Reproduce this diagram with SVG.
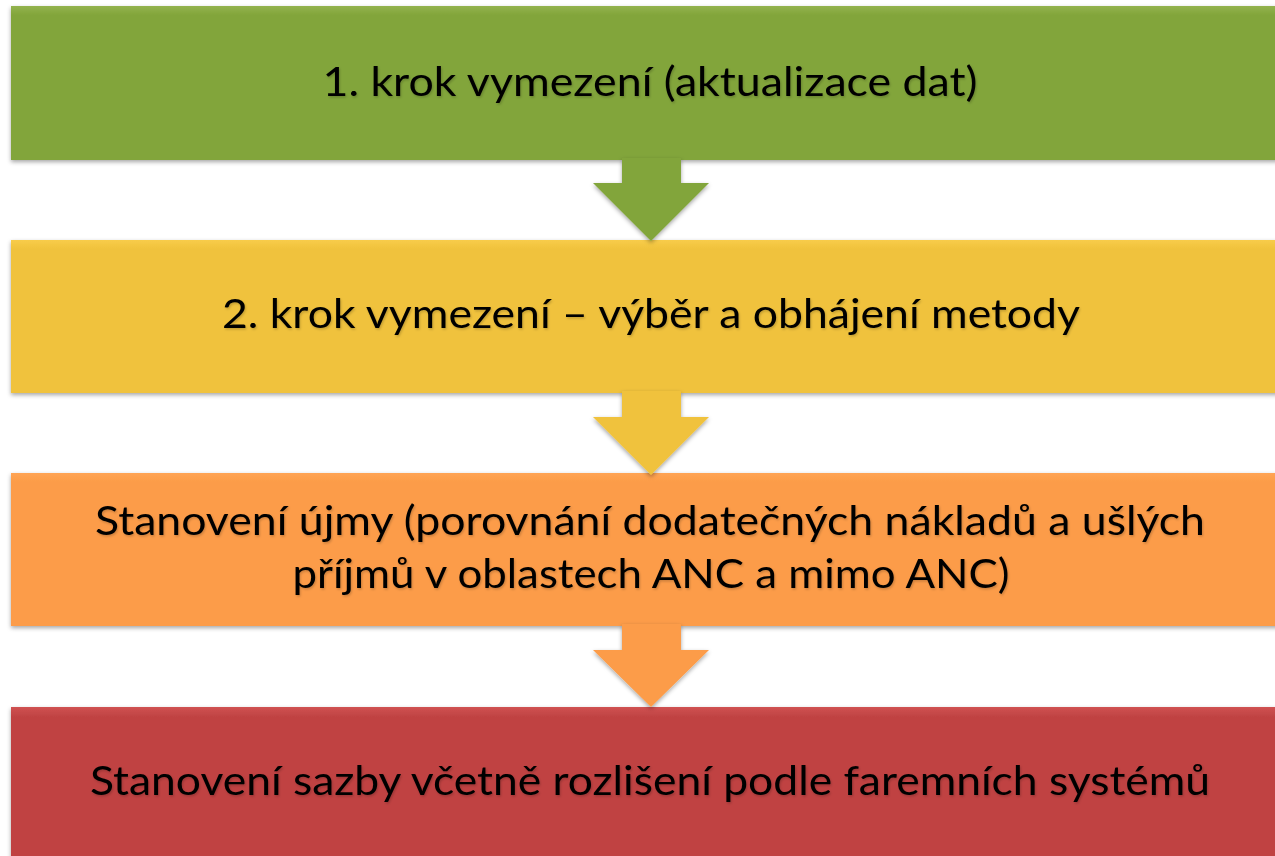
<svg xmlns="http://www.w3.org/2000/svg" width="1275" height="856" viewBox="0 0 1275 856">
<style>
  .lbl { font-family: Lato, "Open Sans", "Liberation Sans", sans-serif; font-size: 40px; fill: #000; text-anchor: middle; filter: url(#tshadow); }
</style>
<defs>
  <filter id="shadow" x="-5%" y="-10%" width="110%" height="130%">
    <feDropShadow dx="0" dy="2" stdDeviation="2" flood-color="#000" flood-opacity="0.35"/>
  </filter>
  <filter id="tshadow" x="-5%" y="-20%" width="110%" height="150%">
    <feDropShadow dx="1" dy="1.5" stdDeviation="1.2" flood-color="#000" flood-opacity="0.2"/>
  </filter>
  <linearGradient id="gGreen" x1="0" y1="0" x2="0" y2="1">
    <stop offset="0" stop-color="#93B34E"/><stop offset="0.06" stop-color="#82A53A"/><stop offset="1" stop-color="#82A53A"/>
  </linearGradient>
  <linearGradient id="gYellow" x1="0" y1="0" x2="0" y2="1">
    <stop offset="0" stop-color="#F8CC4A"/><stop offset="0.06" stop-color="#F0C23C"/><stop offset="1" stop-color="#F0C23C"/>
  </linearGradient>
  <linearGradient id="gOrange" x1="0" y1="0" x2="0" y2="1">
    <stop offset="0" stop-color="#FFA454"/><stop offset="0.06" stop-color="#FC9C48"/><stop offset="1" stop-color="#FC9C48"/>
  </linearGradient>
  <linearGradient id="gRed" x1="0" y1="0" x2="0" y2="1">
    <stop offset="0" stop-color="#D05252"/><stop offset="0.06" stop-color="#C04343"/><stop offset="1" stop-color="#C04343"/>
  </linearGradient>
</defs>
<rect width="1275" height="856" fill="#FFFFFF"/>

<g id="step1">
  <rect x="11" y="6" width="1280" height="154" fill="url(#gGreen)" filter="url(#shadow)"/>
  <text class="lbl" x="650" y="96" textLength="655" lengthAdjust="spacingAndGlyphs">1. krok vymezení (aktualizace dat)</text>
</g>
<g id="step2">
  <rect x="11" y="240" width="1280" height="153" fill="url(#gYellow)" filter="url(#shadow)"/>
  <text class="lbl" x="651" y="328" textLength="858" lengthAdjust="spacingAndGlyphs">2. krok vymezení – výběr a obhájení metody</text>
</g>
<g id="step3">
  <rect x="11" y="473" width="1280" height="153" fill="url(#gOrange)" filter="url(#shadow)"/>
  <text class="lbl" x="650" y="535" textLength="1110" lengthAdjust="spacingAndGlyphs">Stanovení újmy (porovnání dodatečných nákladů a ušlých</text>
  <text class="lbl" x="651" y="588" textLength="717" lengthAdjust="spacingAndGlyphs">příjmů v oblastech ANC a mimo ANC)</text>
</g>
<g id="step4">
  <rect x="11" y="707" width="1280" height="160" fill="url(#gRed)" filter="url(#shadow)"/>
  <text class="lbl" x="650" y="795" textLength="1120" lengthAdjust="spacingAndGlyphs">Stanovení sazby včetně rozlišení podle faremních systémů</text>
</g>

<g id="connectors" filter="url(#shadow)">
  <polygon points="622,158 681,158 681,183 709,183 651,241 593,183 622,183" fill="#82A53A"/>
  <polygon points="622,391 681,391 681,417 709,417 651,475 593,417 622,417" fill="#F0C23C"/>
  <polygon points="622,624 681,624 681,650 709,650 651,707 593,650 622,650" fill="#FC9C48"/>
</g>
</svg>
